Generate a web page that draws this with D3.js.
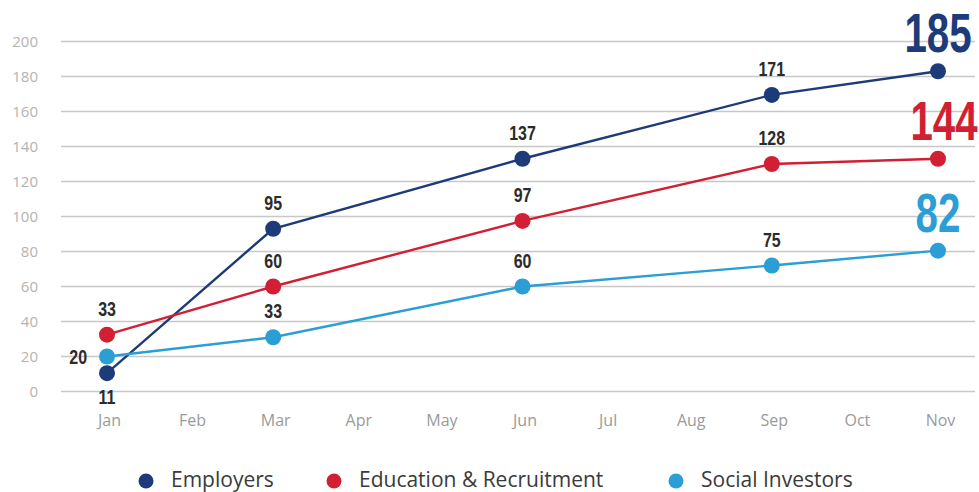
<!DOCTYPE html>
<html>
<head>
<meta charset="utf-8">
<script src="https://cdn.jsdelivr.net/npm/d3@7"></script>
<style>
  html, body { margin: 0; padding: 0; background: #fff; }
  svg { display: block; }
</style>
</head>
<body>
<div id="chart"></div>
<script>
// ---- Data ----
const months = ["Jan","Feb","Mar","Apr","May","Jun","Jul","Aug","Sep","Oct","Nov"];
const pointMonths = ["Jan","Mar","Jun","Sep","Nov"];
const seriesNames = ["Employers","Education & Recruitment","Social Investors"];
const employersValues = [10.5, 93, 133, 169.5, 183];
const educationValues = [32.5, 60, 97.5, 130, 133];
const socialValues = [20, 31, 60, 72, 80.5];
const employersLabels = ["11","95","137","171","185"];
const educationLabels = ["33","60","97","128","144"];
const socialLabels = ["20","33","60","75","82"];
const yTicks = [0,20,40,60,80,100,120,140,160,180,200];
const colors = ["#1d3b78","#d21f33","#2a9ed5"];

const series = [
  {name: seriesNames[0], values: employersValues, labels: employersLabels, color: colors[0]},
  {name: seriesNames[1], values: educationValues, labels: educationLabels, color: colors[1]},
  {name: seriesNames[2], values: socialValues, labels: socialLabels, color: colors[2]}
];

const W = 979, H = 492;
const svg = d3.select("#chart").append("svg").attr("width", W).attr("height", H);

const x = d3.scalePoint().domain(months).range([107, 938]);
const y = d3.scaleLinear().domain([0, 200]).range([391.5, 41.5]);
const gridX0 = 61, gridX1 = 975;

// Grid lines
svg.append("g").selectAll("line").data(yTicks).join("line")
  .attr("x1", gridX0).attr("x2", gridX1)
  .attr("y1", d => y(d)).attr("y2", d => y(d))
  .attr("stroke", "#c8c8c8").attr("stroke-width", 1.4);

// Y axis labels
const yAxis = d3.axisLeft(y).tickValues(yTicks).tickSize(0).tickPadding(0);
const gy = svg.append("g").attr("transform", "translate(38,0)").call(yAxis);
gy.select(".domain").remove();
gy.selectAll("text").attr("font-family", "'Open Sans', sans-serif")
  .attr("font-size", 15).attr("fill", "#b3b3b3");

// X axis labels
const xAxis = d3.axisBottom(x).tickSize(0).tickPadding(0);
const gx = svg.append("g").attr("transform", "translate(2,415)").call(xAxis);
gx.select(".domain").remove();
gx.selectAll("text").attr("font-family", "'Open Sans', sans-serif")
  .attr("font-size", 16).attr("fill", "#9a9a9a");

// Lines
const line = d3.line().x((d, i) => x(pointMonths[i])).y(d => y(d));
svg.append("g").selectAll("path").data(series).join("path")
  .attr("d", s => line(s.values))
  .attr("fill", "none").attr("stroke", s => s.color).attr("stroke-width", 2.4);

// Points
series.forEach(s => {
  svg.append("g").selectAll("circle").data(s.values).join("circle")
    .attr("cx", (d, i) => x(pointMonths[i])).attr("cy", d => y(d))
    .attr("r", 8).attr("fill", s.color);
});

// Value labels (bold, horizontally condensed)
const labelFont = "'Liberation Sans', Arial, sans-serif";
series.forEach((s, si) => {
  s.values.forEach((v, i) => {
    const last = i === s.values.length - 1;
    let lx = x(pointMonths[i]), ly = y(v) - 19, anchor = "middle";
    if (i === 0 && si === 2) { lx = x(pointMonths[i]) - 20; ly = y(v) + 7; anchor = "end"; }
    if (i === 0 && si === 0) { ly = y(v) + 31; }
    if (last && si === 1) { lx = lx + 6; }
    svg.append("text")
      .attr("transform", `translate(${lx},${ly}) scale(${last ? 0.72 : 0.76},1)`)
      .attr("text-anchor", anchor)
      .attr("font-family", labelFont)
      .attr("font-weight", "bold")
      .attr("font-size", last ? 56 : 21)
      .attr("fill", last ? s.color : "#2b2b2b")
      .text(s.labels[i]);
  });
});

// Legend
const legendX = [146, 334, 676];
const lg = svg.append("g");
series.forEach((s, i) => {
  lg.append("circle").attr("cx", legendX[i]).attr("cy", 481).attr("r", 7.5).attr("fill", s.color);
  lg.append("text").attr("x", legendX[i] + 25).attr("y", 487)
    .attr("font-family", "'Open Sans', sans-serif").attr("font-size", 21)
    .attr("fill", "#3a3a3a").text(s.name);
});
</script>
</body>
</html>
